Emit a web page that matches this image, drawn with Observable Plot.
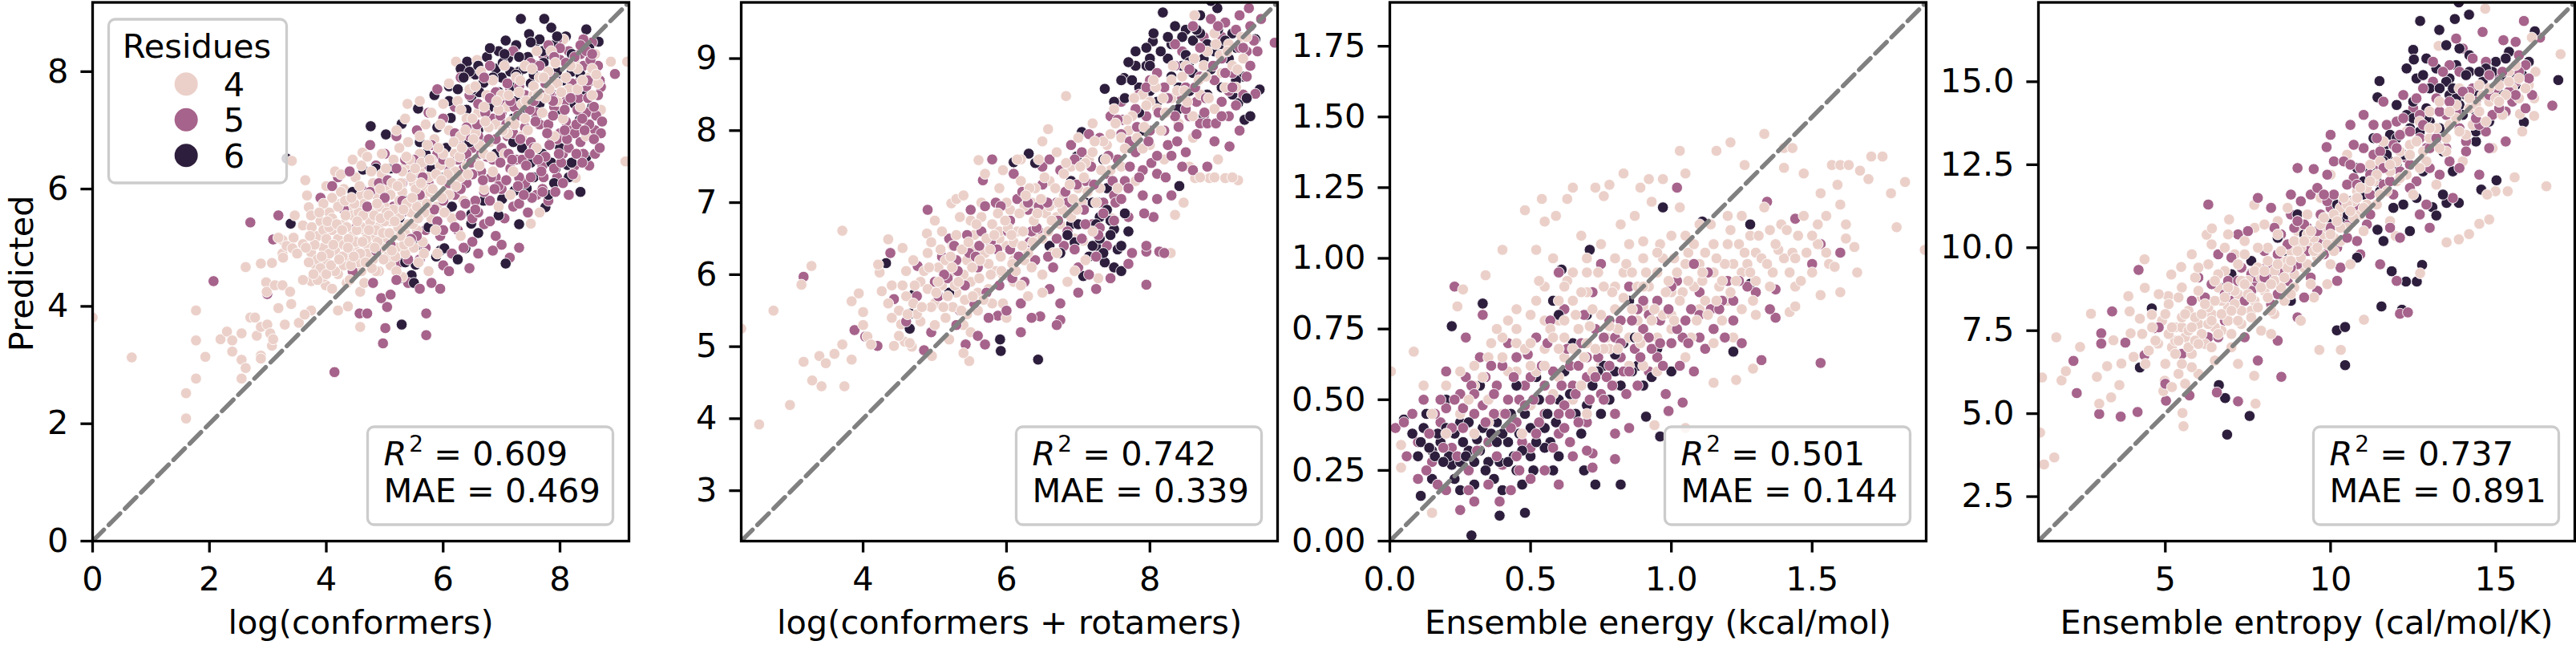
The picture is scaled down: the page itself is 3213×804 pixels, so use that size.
<!DOCTYPE html>
<html><head><meta charset="utf-8">
<script src="https://cdn.jsdelivr.net/npm/d3@7"></script>
<script src="https://cdn.jsdelivr.net/npm/@observablehq/plot@0.6"></script>
<style>
html,body{margin:0;padding:0;background:#fff;overflow:hidden}
#fig{position:relative;width:3213px;height:804px;overflow:hidden;background:#fff}
#fig svg{position:absolute;top:0}
</style></head><body><div id="fig"></div>
<script>
const residues = [4, 5, 6];
const residueColors = ["#ebd0c9", "#a6638b", "#2e1e3d"];

// Panel 1: log(conformers)
const p1_res4 = [[0,3.81],[0.67,3.13],[1.6,2.52],[1.6,2.09],[1.77,3.93],[1.77,3.42],[1.77,2.77],[1.93,3.14],[2.19,3.44],[2.3,3.57],[2.39,3.42],[2.39,3.23],[2.55,3.54],[2.55,2.77],[2.55,3.09],[2.62,2.95],[2.62,4.67],[2.7,3.81],[2.78,3.81],[2.81,3.5],[2.88,3.16],[2.88,3.65],[2.88,3.11],[2.99,3.69],[3.04,3.54],[3.07,3.33],[3.09,3.44],[2.88,4.73],[2.97,4.41],[2.98,4.25],[3.12,4.36],[3.07,4.74],[3.18,3.97],[3.25,4.36],[3.29,3.69],[3.25,4.9],[3.41,6.48],[3.38,4.25],[3.4,4.04],[3.53,3.72],[3.64,6.15],[3.67,5.89],[3.7,5.69],[3.74,5.55],[3.46,5.55],[3.6,5.38],[3.44,5.17],[3.25,5.13],[3.18,5.17],[3.32,5.03],[3.26,4.83],[3.42,4.99],[3.6,5.06],[3.74,4.92],[3.81,4.71],[3.89,4.57],[3.99,4.36],[4.2,3.93],[4.37,4.0],[4.58,3.65],[4.58,4.25],[3.74,3.93],[3.63,3.86],[3.74,4.43],
[6.22,8.17],[6.43,7.95],[6.58,8.2],[8.87,8.17],[9.15,8.17],[9.12,6.47],[8.59,7.34],[8.49,6.4],[8.27,6.19],[7.5,5.41],[5.39,7.45],[5.36,6.4],[4.62,6.62],[8.06,8.55],
[3.85,5.2],[3.9,5.45],[3.95,5.0],[4.0,4.75],[4.05,5.6],[4.1,5.3],[4.15,4.95],[4.0,6.05],[4.1,5.85],[3.85,4.8],[4.2,4.55],[4.15,6.3],[3.95,4.5],
[4.25,5.1],[4.3,5.4],[4.35,4.8],[4.4,5.7],[4.45,5.2],[4.5,4.95],[4.3,6.0],[4.55,5.5],[4.35,4.4],[4.5,6.2],[4.6,4.6],[4.25,5.75],[4.45,6.5],[4.6,5.9],
[4.65,5.3],[4.7,5.05],[4.75,5.6],[4.8,4.8],[4.85,5.9],[4.9,5.35],[4.95,6.25],[4.7,6.55],[4.8,6.1],[5.0,5.1],[4.9,4.6],[4.65,4.4],[5.0,5.7],
[5.05,6.0],[5.1,5.45],[5.15,6.5],[5.2,5.0],[5.25,5.8],[5.3,6.3],[5.35,5.25],[5.4,6.8],[5.45,5.6],[5.1,4.7],[5.3,4.5],[5.5,6.1],[5.2,7.0],[5.35,7.2],
[5.55,5.3],[5.6,6.6],[5.65,5.85],[5.7,7.1],[5.75,6.2],[5.8,5.5],[5.85,6.85],[5.9,4.9],[5.95,6.4],[5.6,7.5],[5.8,7.3],[5.75,4.6],
[6.05,6.0],[6.1,7.0],[6.15,5.5],[6.2,6.6],[6.25,7.5],[6.3,6.2],[6.35,5.8],[6.4,7.2],[6.45,6.9],[6.1,7.8],[6.3,5.2],[6.45,7.7],
[6.55,6.5],[6.6,7.3],[6.7,6.0],[6.75,7.6],[6.8,6.8],[6.9,7.1],[6.95,5.7],[6.65,8.0],[6.85,7.85],
[7.05,6.6],[7.1,7.4],[7.2,6.3],[7.25,7.9],[7.35,6.9],[7.4,8.1],[7.45,7.0],[7.15,5.9],
[7.55,7.6],[7.6,6.7],[7.7,7.3],[7.8,8.0],[7.9,6.9],[7.95,7.5],[7.65,5.6],
[8.05,7.2],[8.15,7.7],[8.25,8.2],[8.35,7.4],[8.5,7.9],[8.6,8.3],[8.45,6.9],[8.7,7.35]];
const p1_res4_core = [[3.7,4.75],[3.8,5.05],[3.9,4.65],[3.95,5.3],[4.05,4.9],[4.1,5.5],[4.15,4.6],[4.2,5.15],[4.25,5.95],[4.3,4.7],[4.35,5.35],[4.4,4.95],[4.45,5.55],[4.5,5.1],[4.55,4.75],[4.6,5.35],[4.65,5.75],[4.7,4.9],[4.75,5.45],[4.8,5.2],[4.85,4.6],[4.9,5.7],[4.95,5.0],[5.0,5.45],[5.05,4.85],[5.1,5.9],[5.15,5.2],[5.2,4.6],[5.25,5.55],[5.3,5.95],[5.35,4.9],[5.4,5.4],[5.45,6.2],[5.5,5.0],[5.55,5.7],[5.6,6.3],[5.65,5.1],[5.7,6.0],[5.8,6.5],[5.9,5.7],[6.0,6.6],[6.1,5.9],[6.2,6.3],[6.3,6.9],[6.4,6.4],[6.55,6.95],[6.7,6.6],[4.0,5.15],[4.3,5.05],[4.55,5.6],[4.85,5.3],[5.15,5.65],[3.6,4.45],[3.5,4.9],[4.1,4.3],[4.4,4.45],[3.95,5.75],[4.25,6.25],[4.6,6.4],[4.95,6.6],[5.25,6.7],[5.6,6.9],[5.95,7.1],[6.3,7.35],[6.7,7.4],[7.0,7.6],[7.3,7.65],[7.65,7.9],[7.85,8.35],[8.3,8.05],[8.55,8.05],[7.1,6.95],[6.85,6.3],[7.4,7.2]];
const p1_res4_fill = [[3.75,5.35],[3.85,4.45],[4.0,4.55],[4.05,5.35],[4.12,5.05],[4.2,5.7],[4.28,4.85],[4.33,5.55],[4.38,5.15],[4.42,4.7],[4.48,5.75],[4.52,5.3],[4.58,4.9],[4.63,5.55],[4.68,5.15],[4.72,5.9],[4.78,4.65],[4.82,5.55],[4.88,5.1],[4.92,6.0],[4.97,5.25],[5.03,5.6],[5.08,5.25],[5.13,6.1],[5.18,4.85],[5.23,5.35],[5.28,6.1],[5.33,5.05],[5.38,5.75],[5.43,6.5],[5.48,5.4],[5.53,6.0],[5.58,4.75],[5.63,6.45],[5.68,5.6],[5.73,6.75],[5.78,5.95],[5.88,6.25],[5.98,5.85],[6.08,6.25],[6.18,6.8],[6.28,6.55],[6.38,7.0],[6.5,7.2],[6.62,6.75],[6.78,7.05],[6.95,7.35],[7.15,7.15],[7.35,7.45],[7.55,7.75],[7.75,7.55],[7.95,7.8],[8.1,7.9],[8.3,7.7],[8.55,7.6],[8.65,7.8],[6.0,7.45],[6.55,7.75],[7.05,8.1],[7.6,8.35]];
const p1_res4_more = [[3.65,5.0],[3.72,5.2],[3.78,4.55],[3.88,5.6],[3.92,4.85],[4.02,5.45],[4.08,4.7],[4.18,5.4],[4.22,4.8],[4.27,5.3],[4.32,5.8],[4.37,5.0],[4.43,5.85],[4.47,4.85],[4.53,5.45],[4.57,6.05],[4.62,5.1],[4.67,4.75],[4.73,5.3],[4.77,6.3],[4.83,5.0],[4.87,5.75],[4.93,5.5],[4.98,4.8],[5.02,6.35],[5.07,5.55],[5.12,4.95],[5.17,5.45],[5.22,6.05],[5.27,5.2],[5.32,5.65],[5.37,6.55],[5.42,5.1],[5.47,5.85],[5.52,6.35],[5.57,5.5],[5.62,6.1],[5.67,4.9],[5.72,5.75],[5.77,6.5],[5.82,6.0],[5.87,5.3],[5.92,6.7],[5.97,6.15],[6.02,5.6],[6.12,6.45],[6.22,6.05],[6.32,6.7],[6.42,6.25],[6.52,6.85],[6.62,6.4],[6.72,7.15],[6.82,6.55],[6.92,7.5],[7.02,7.0],[7.12,7.6],[7.22,7.1],[7.32,7.85],[7.42,7.5],[7.52,8.05],[7.62,7.6],[7.72,7.9],[7.82,7.7],[7.92,8.15],[8.02,7.65],[8.18,8.1],[8.38,7.85],[8.62,7.95]];
const p1_res5 = [[2.07,4.43],[2.7,5.43],[2.99,4.21],[3.18,5.55],[3.09,5.14],[4.14,2.88],[4.97,3.37],[5.01,3.63],[5.71,3.51],[5.71,3.88],[7.14,4.83],[4.57,3.88],[4.7,3.88],[5.04,3.99],[4.94,4.14],[4.0,5.27],[4.2,6.2],[4.51,5.34],[8.94,7.96],[8.7,7.74],[8.52,6.91],[7.96,6.13],
[4.6,6.0],[4.75,6.75],[4.85,6.4],[4.9,5.0],[5.0,6.6],[5.1,4.2],[5.15,5.7],[5.2,6.9],[5.25,4.75],[5.3,5.6],[5.4,4.4],[5.45,6.3],[5.5,5.1],[5.55,7.0],[5.6,4.8],[5.65,6.4],[5.7,5.3],[5.75,7.3],[5.8,4.4],[5.85,5.9],[5.9,6.6],[5.95,5.2],[6.0,4.7],[6.0,7.2],[6.05,5.6],[6.1,6.35],[6.15,4.9],[6.2,7.4],[6.25,5.3],[6.3,6.8],[6.35,5.0],[6.4,6.1],[6.45,7.6],[6.5,5.5],[6.55,7.0],[6.6,4.9],[6.65,6.3],[6.7,5.4],[6.75,7.2],[6.8,5.8],[6.85,6.5],[6.9,5.2],[6.95,7.5],[7.0,6.0],[7.05,5.5],[7.1,6.9],[7.15,7.7],[7.2,5.7],[7.25,6.5],[7.3,5.0],[7.35,7.3],[7.4,6.1],[7.45,5.6],[7.5,6.8],[7.55,8.0],[7.6,5.9],[7.65,7.1],[7.7,6.4],[7.75,7.8],[7.8,5.8],[7.85,6.9],[7.9,7.4],[7.95,6.2],[8.0,8.2],[8.05,6.6],[8.1,7.5],[8.15,5.9],[8.2,7.0],[8.25,6.4],[8.3,7.8],[8.35,6.8],[8.4,8.1],[8.45,7.3],[8.5,6.4],[8.55,8.5],[8.6,7.0],[8.65,7.6],[8.4,8.55],[8.15,8.35],[7.95,8.55],[7.7,8.3],[6.3,7.9],[5.9,7.7],[6.8,8.1],[7.2,8.35],[5.3,6.1],[5.6,5.55],[6.5,6.7],[7.0,7.3],[7.4,7.6],[7.9,7.9],[8.25,7.6],[6.9,6.2],[7.3,6.2],[7.7,6.0],[8.0,6.95],[6.2,5.9],[6.6,5.6],[5.75,6.1]];
const p1_res5_core = [[6.3,6.0],[6.4,6.6],[6.5,6.25],[6.6,6.9],[6.7,5.95],[6.75,6.55],[6.85,7.2],[6.95,6.05],[7.0,6.7],[7.05,7.45],[7.15,6.35],[7.2,6.95],[7.3,5.75],[7.35,6.5],[7.4,7.05],[7.5,6.2],[7.55,6.7],[7.6,7.3],[7.7,5.95],[7.75,6.55],[7.8,7.1],[7.85,7.6],[7.9,6.35],[7.95,6.85],[8.0,7.6],[8.05,6.1],[8.1,7.15],[8.15,6.7],[8.2,7.8],[8.25,6.95],[8.3,7.35],[8.35,8.3],[8.4,6.6],[8.45,7.75],[8.5,7.1],[8.55,7.85],[8.6,6.6],[8.65,8.1],[8.7,6.95],[8.45,8.35],[8.1,8.15],[7.8,8.45],[7.5,8.15],[7.3,7.75],[6.9,7.65],[6.6,7.45],[6.2,6.95],[6.0,6.5],[5.8,6.75],[5.5,6.5],[5.2,6.35],[4.9,6.1],[4.6,5.65],[4.3,5.65],[4.1,6.05],[3.9,5.85],[4.45,4.6],[4.8,4.4],[5.1,5.05],[5.4,4.8],[5.7,5.0],[6.0,5.3],[6.3,5.55],[6.5,5.1],[6.8,5.45],[7.0,5.05],[6.1,4.6],[5.6,4.3],[5.95,4.3],[6.45,4.65]];
const p1_res5_fill = [[6.35,6.35],[6.45,6.9],[6.55,5.8],[6.65,6.6],[6.72,7.3],[6.82,6.2],[6.9,6.85],[6.98,7.25],[7.08,6.15],[7.12,6.6],[7.22,7.4],[7.28,6.05],[7.32,6.85],[7.42,6.4],[7.48,7.35],[7.52,5.85],[7.62,6.5],[7.68,7.6],[7.72,6.2],[7.82,6.75],[7.88,7.25],[7.92,5.95],[8.02,6.45],[8.08,7.35],[8.12,6.85],[8.22,6.25],[8.28,7.1],[8.32,7.55],[8.38,6.45],[8.42,7.0],[8.48,7.55],[8.52,8.2],[8.58,6.85],[8.62,7.25],[8.68,7.85],[8.72,7.15],[8.35,8.45],[8.0,8.4],[7.65,8.1],[7.1,7.8],[6.7,7.9],[6.0,5.8],[5.65,6.2],[5.35,6.5],[5.05,6.15],[4.75,5.95],[5.55,5.2],[5.9,5.45],[6.2,5.35],[6.55,5.65],[6.85,4.95],[5.2,4.45],[5.45,5.15],[4.85,4.95]];
const p1_res5_more = [[6.25,6.5],[6.38,5.75],[6.48,6.45],[6.58,7.1],[6.68,6.15],[6.78,6.85],[6.88,6.0],[6.98,6.45],[7.08,7.1],[7.18,6.5],[7.28,7.25],[7.38,5.9],[7.48,6.6],[7.58,7.15],[7.68,6.3],[7.78,6.95],[7.88,7.5],[7.98,6.6],[8.08,7.0],[8.18,7.55],[8.28,6.6],[8.38,7.2],[8.48,7.85],[8.58,7.4],[8.68,6.7],[8.55,8.3],[8.25,8.25],[7.9,8.25],[7.55,7.5],[7.15,7.5],[6.8,7.55],[6.4,7.05],[6.1,6.1],[5.85,5.65],[5.6,5.9],[5.3,5.8],[5.0,5.85],[4.7,5.7],[4.4,6.3]];
const p1_res6 = [[3.32,6.52],[3.39,5.41],[7.33,8.9],[7.73,8.9],[7.07,8.53],[8.45,8.72],[8.66,8.51],[7.47,8.64],[7.57,8.49],[4.76,7.07],[5.02,6.93],[4.63,6.33],[5.29,7.11],[5.57,7.37],[5.85,7.6],[8.13,6.41],[7.92,6.34],[7.75,5.69],[7.07,4.73],[5.29,3.69],[5.53,4.71],[5.46,4.53],[5.29,4.48],[5.95,4.95],[5.88,4.85],[6.48,5.57],[7.11,8.23],[6.41,8.17],[6.9,8.05],[7.11,7.6],[7.4,7.39],[8.34,7.18],[6.13,7.21],[6.2,7.46],[6.48,7.56],[6.69,7.81],[7.01,5.83],[6.69,5.8],[6.48,5.41],[6.38,4.99],[6.02,4.99],[7.22,5.97],[7.43,6.01],
[7.6,8.1],[7.8,8.3],[7.3,8.0],[7.0,7.9],[7.5,7.8],[7.9,7.6],[8.2,8.0],[8.4,7.7],[8.0,7.3],[7.2,7.2],[6.8,7.4],[6.6,7.0],[7.7,6.6],[7.35,6.7],[6.9,6.6],[5.6,6.8],[5.8,6.35],[6.3,6.5],[5.4,5.8],[8.55,7.4],[7.85,8.75],[8.1,8.6]];
const p1_res6_core = [[6.1,7.75],[6.3,8.05],[6.55,7.95],[6.75,8.25],[6.95,8.35],[7.15,8.0],[7.25,8.45],[7.45,8.25],[7.65,8.55],[7.0,7.35],[7.25,7.5],[7.6,7.25],[6.8,7.1],[6.4,7.35],[5.9,7.05],[5.5,6.25],[5.1,6.35],[4.9,5.85],[5.35,4.75],[5.5,4.4],[5.75,5.35],[6.15,5.7],[6.6,5.25],[6.25,4.8],[7.5,6.45],[7.9,6.1],[8.2,6.45],[8.35,5.95],[7.3,5.4],[7.8,5.9],[8.35,7.95],[8.5,8.4],[7.95,8.0],[5.7,6.6],[6.05,6.7],[4.85,6.35],[4.45,5.95]];
const p1_res6_fill = [[6.25,7.7],[6.45,8.0],[6.62,7.65],[6.85,7.9],[7.02,8.15],[7.18,7.75],[7.38,8.05],[7.55,7.95],[7.72,8.15],[7.9,8.45],[8.05,7.85],[8.25,7.45],[7.45,7.35],[7.2,6.8],[6.7,6.8],[6.45,6.8],[5.95,6.2],[5.65,5.8],[5.25,5.5],[7.55,6.2],[8.0,6.7],[8.45,6.55]];
const p1_res6_more = [[6.35,7.9],[6.6,8.1],[6.8,8.4],[7.05,8.3],[7.3,8.25],[7.5,8.5],[7.7,8.35],[7.95,8.6],[8.2,8.3],[6.95,7.65],[7.25,7.95],[7.65,7.45],[6.5,7.7],[6.1,7.5],[7.85,6.45],[8.15,6.2],[6.95,5.55],[5.6,5.05]];

// Panel 2: log(conformers + rotamers)
const p2_res4 = [[2.3,5.25],[2.55,3.92],[2.75,5.5],[2.98,4.19],[3.14,5.86],[3.28,6.12],[3.17,4.79],[3.29,4.53],[3.39,4.87],[3.42,4.45],[3.48,4.77],[3.6,4.9],[3.71,6.61],[3.71,5.03],[3.74,4.45],[3.84,4.82],[3.84,5.63],[3.94,5.74],[4.0,5.48],[4.0,5.3],[4.06,5.14],[4.11,5.03],[4.23,6.03],[4.26,5.77],[4.21,6.14],[4.35,6.49],[4.43,5.01],[4.55,6.37],[4.58,5.07],[4.53,5.31],[4.68,5.0],[4.89,6.57],[4.96,4.87],[5.23,6.99],[5.48,4.8],[5.4,4.91],[5.61,7.59],[8.62,9.6],[6.83,8.48],[8.47,7.0],[8.63,7.34],[8.83,7.34],[9.05,7.34],[9.23,7.31],[8.29,6.3],[8.35,6.83],[7.47,6.78],[7.28,5.95],[7.07,6.47],[6.58,8.02],
[4.8,5.9],[4.9,6.3],[5.0,5.6],[5.05,6.1],[5.1,6.6],[5.15,5.4],[5.2,6.0],[5.25,6.4],[5.3,5.75],[5.35,6.8],[5.4,5.3],[5.45,6.2],[5.5,5.9],[5.55,6.55],[5.6,5.5],[5.65,7.0],[5.7,6.3],[5.75,5.8],[5.8,6.7],[5.85,6.05],[5.9,7.2],[5.95,5.6],[6.0,6.4],[6.05,6.9],[6.1,5.9],[6.15,6.6],[6.2,7.3],[6.25,6.2],[6.3,5.7],[6.35,7.0],[6.4,6.5],[6.45,7.6],[6.5,6.0],[6.55,6.85],[6.6,7.3],[6.65,6.3],[6.7,7.7],[6.75,6.7],[6.8,7.1],[6.85,5.9],[6.9,7.5],[6.95,6.5],[7.0,7.9],[7.05,7.0],[7.1,6.2],[7.15,7.6],[7.2,8.1],[7.3,7.2],[7.4,7.8],[7.5,8.3],[7.6,7.5],[7.7,8.0],[7.8,7.3],[7.9,8.5],[8.0,7.8],[8.1,8.3],[8.2,7.6],[8.3,8.7],[8.4,8.1],[8.5,8.9],[8.6,7.9],[8.7,8.5],[8.8,9.1],[8.9,8.3],[9.0,8.8],[9.1,9.2],[9.2,8.6],[9.3,9.0],[8.95,7.6],[8.55,7.5],[4.6,5.7],[4.7,6.2],[4.5,5.5],[4.4,5.85],[5.2,5.1],[5.5,5.2],[6.0,5.4],[5.3,7.05],[5.7,7.4],[6.2,7.6],[6.5,7.85],[6.1,6.2],[5.9,6.5],[6.3,6.3],[6.7,6.8]];
const p2_res4_core = [[4.7,5.6],[4.8,5.35],[4.9,5.8],[5.0,5.3],[5.1,5.85],[5.15,6.2],[5.25,5.55],[5.3,6.55],[5.4,6.0],[5.45,5.45],[5.55,6.35],[5.6,5.75],[5.65,6.8],[5.75,6.15],[5.8,5.6],[5.9,6.6],[5.95,6.0],[6.0,7.0],[6.1,6.45],[6.2,5.85],[6.25,6.95],[6.35,6.1],[6.4,7.2],[6.5,6.5],[6.6,6.95],[6.7,6.3],[6.8,7.4],[6.9,6.8],[7.0,7.2],[7.1,7.55],[7.25,7.0],[7.35,7.85],[7.45,7.45],[7.6,7.9],[7.75,8.2],[7.9,7.75],[8.0,8.4],[8.15,8.0],[8.3,8.45],[8.45,8.75],[8.6,8.2],[8.75,8.9],[8.9,9.35],[9.05,8.6],[8.7,7.35],[8.9,7.35],[9.15,7.35],[6.15,7.6],[5.5,6.75],[4.95,6.45],[4.6,6.05],[4.4,5.4],[4.5,5.15],[4.35,5.6],[7.2,6.6],[6.95,6.05],[6.5,5.75]];
const p2_res4_fill = [[4.75,5.45],[4.85,6.05],[4.95,5.55],[5.05,5.9],[5.12,5.55],[5.22,6.25],[5.28,5.85],[5.38,6.35],[5.42,5.65],[5.52,6.1],[5.58,6.7],[5.62,5.95],[5.72,6.5],[5.78,6.0],[5.88,6.85],[5.92,6.25],[6.02,6.65],[6.08,6.15],[6.18,6.85],[6.22,6.4],[6.32,7.2],[6.38,6.75],[6.48,7.05],[6.58,6.6],[6.68,7.2],[6.78,6.9],[6.88,7.25],[6.98,6.9],[7.08,7.35],[7.2,7.7],[7.32,7.45],[7.45,7.95],[7.55,7.2],[7.68,8.15],[7.82,7.9],[7.95,8.35],[8.08,8.6],[8.22,8.25],[8.38,8.55],[8.52,8.4],[8.68,8.7],[8.82,8.45],[8.98,9.05],[9.15,8.9],[9.28,9.3],[5.0,6.75],[5.4,7.1],[5.95,7.45],[4.55,5.85],[4.65,5.05]];
const p2_res4_more = [[4.62,5.45],[4.72,5.85],[4.82,5.55],[4.92,6.1],[5.02,5.75],[5.08,6.35],[5.18,5.7],[5.24,6.1],[5.33,5.9],[5.37,5.5],[5.47,6.45],[5.53,5.7],[5.63,6.2],[5.68,5.65],[5.77,6.35],[5.83,6.55],[5.93,6.05],[5.98,6.75],[6.07,6.55],[6.13,6.05],[6.23,6.6],[6.27,7.1],[6.37,6.45],[6.43,6.85],[6.53,7.35],[6.63,6.75],[6.73,7.0],[6.83,7.55],[6.93,7.05],[7.03,7.5],[7.13,7.15],[7.23,7.85],[7.38,7.6],[7.52,8.1],[7.65,7.75],[7.78,8.45],[7.92,8.05],[8.05,8.7],[8.18,8.45],[8.32,8.9],[8.48,8.55],[8.62,9.0],[8.78,8.75],[8.92,9.2],[9.08,9.1],[9.22,8.85],[9.35,9.3]];
const p2_res5 = [[3.17,5.97],[3.88,5.23],[4.03,5.14],[4.2,5.01],[4.38,6.3],[4.43,5.66],[4.76,6.12],[4.85,4.95],[5.43,5.03],[5.7,5.03],[5.67,7.31],[5.88,5.43],[6.47,5.42],[6.75,5.37],[7.95,6.32],[8.13,6.32],[9.74,9.22],[9.38,9.7],[9.47,8.51],[9.11,7.78],[7.95,5.86],
[5.0,5.9],[5.2,6.5],[5.35,5.5],[5.5,6.9],[5.6,6.1],[5.75,5.4],[5.85,7.0],[6.0,6.0],[6.1,7.4],[6.2,5.6],[6.3,6.9],[6.4,6.2],[6.5,7.5],[6.6,5.8],[6.7,7.0],[6.8,6.4],[6.9,7.8],[7.0,6.1],[7.1,7.3],[7.2,6.7],[7.3,7.9],[7.4,6.4],[7.5,7.1],[7.6,8.4],[7.7,6.8],[7.8,7.7],[7.9,7.1],[8.0,8.7],[8.1,7.4],[8.2,8.0],[8.3,7.1],[8.4,8.5],[8.5,7.7],[8.6,9.0],[8.7,8.1],[8.8,7.5],[8.9,8.7],[9.0,9.3],[9.1,8.2],[9.2,9.4],[9.3,8.5],[9.35,9.1],[8.75,9.3],[8.45,9.1],[7.95,8.2],[7.55,7.6],[7.35,7.0],[6.95,7.0],[6.45,6.6],[6.05,6.75],[5.65,6.6],[5.3,6.2],[7.15,6.0],[7.65,7.3],[8.25,7.8],[8.65,8.4],[9.15,8.8],[8.35,9.2],[7.85,8.5],[7.45,8.2],[6.6,7.6],[4.9,6.9],[5.8,7.6],[8.05,6.8],[7.75,6.3],[7.25,5.8],[6.75,5.6],[6.35,5.4],[7.05,7.7],[8.55,8.2],[9.25,8.0],[9.0,8.4]];
const p2_res5_core = [[4.6,5.35],[4.75,5.7],[4.95,5.2],[5.1,6.25],[5.3,5.3],[5.45,6.55],[5.55,5.6],[5.7,6.95],[5.9,5.85],[6.05,6.35],[6.15,7.05],[6.25,5.9],[6.35,6.6],[6.5,7.25],[6.65,6.1],[6.75,7.45],[6.85,6.6],[6.95,7.6],[7.05,6.5],[7.15,7.95],[7.3,6.65],[7.4,7.4],[7.5,6.75],[7.6,7.95],[7.7,7.2],[7.8,8.3],[7.9,7.45],[8.0,8.0],[8.1,7.05],[8.2,8.6],[8.3,7.65],[8.4,8.05],[8.5,8.6],[8.6,7.45],[8.7,8.75],[8.8,8.1],[8.9,7.85],[9.0,9.0],[9.1,8.55],[9.25,9.15],[9.4,8.9],[9.05,9.5],[8.85,9.55],[9.4,9.45],[7.95,6.4],[8.2,6.3],[7.7,6.15],[7.45,5.95],[7.0,5.75],[6.7,5.3],[6.2,5.2],[6.0,5.5],[5.6,5.15]];
const p2_res5_fill = [[5.05,5.7],[5.18,5.95],[5.32,6.05],[5.48,6.3],[5.62,6.4],[5.78,6.45],[5.92,6.95],[6.08,5.95],[6.22,7.15],[6.32,6.45],[6.45,6.95],[6.58,6.25],[6.72,6.75],[6.82,7.15],[6.95,6.35],[7.08,6.9],[7.18,7.5],[7.28,6.55],[7.42,7.65],[7.52,7.0],[7.62,8.15],[7.72,7.5],[7.82,8.05],[7.92,6.85],[8.02,7.55],[8.12,8.25],[8.22,7.35],[8.35,8.2],[8.45,7.5],[8.55,8.85],[8.65,7.95],[8.78,8.45],[8.92,8.1],[9.05,8.8],[9.2,8.35],[9.35,8.75],[9.5,9.1],[9.55,9.55],[8.6,9.45],[8.1,8.8],[7.25,6.25]];
const p2_res5_more = [[5.13,6.0],[5.27,6.4],[5.42,5.85],[5.57,6.25],[5.72,5.75],[5.87,6.35],[6.02,6.6],[6.17,6.25],[6.3,7.0],[6.42,6.65],[6.57,7.0],[6.7,6.5],[6.85,7.0],[6.98,7.25],[7.1,6.7],[7.22,7.25],[7.35,6.85],[7.48,7.3],[7.6,7.05],[7.72,7.85],[7.85,7.35],[7.98,7.85],[8.1,7.65],[8.25,8.45],[8.38,7.85],[8.5,8.3],[8.63,8.6],[8.76,8.25],[8.88,8.9],[9.0,8.2],[9.15,8.6],[9.3,9.15],[9.45,9.25],[9.25,9.6],[8.95,9.45],[8.7,9.15],[8.35,8.9],[7.95,8.6],[7.55,8.15]];
const p2_res6 = [[4.32,6.16],[4.71,5.73],[4.66,5.46],[5.91,5.1],[5.92,4.94],[6.44,4.82],[6.1,7.56],[6.31,7.68],[8.18,9.64],[8.94,9.7],[9.47,9.27],[9.53,8.57],[9.23,8.38],[8.85,9.8],[7.95,8.9],[8.04,9.24],[7.64,8.73],[7.37,8.58],[8.41,7.23],[7.28,7.0],[7.37,6.17],[7.5,6.63],[7.07,5.98],[7.25,6.4],[7.05,7.98],[6.98,7.64],[9.32,8.15],
[7.6,8.7],[7.8,8.9],[8.0,9.0],[8.2,8.6],[8.3,9.2],[8.5,9.4],[8.6,8.8],[8.7,9.6],[8.8,8.5],[8.9,9.1],[9.0,8.6],[9.15,9.35],[8.4,8.3],[8.1,8.4],[7.9,8.0],[7.4,7.2],[7.2,6.4],[7.5,6.1],[7.3,6.8],[7.7,6.6],[7.1,7.0],[6.6,6.4],[6.9,6.7],[7.35,7.6],[8.75,8.2],[9.3,8.75]];
const p2_res6_core = [[7.8,9.1],[8.05,9.35],[8.25,9.0],[8.45,9.3],[8.6,9.25],[8.75,9.0],[8.95,9.4],[9.1,9.0],[9.2,8.7],[9.35,8.45],[8.55,8.55],[8.3,8.75],[7.85,8.6],[7.5,8.4],[7.2,7.0],[7.4,6.9],[7.55,6.35],[7.35,6.3],[7.6,6.05],[7.0,6.7],[6.75,6.3],[5.2,5.75],[4.65,5.25],[6.4,7.55],[6.9,7.3],[9.4,8.2]];
const p2_res6_fill = [[7.7,8.95],[7.95,9.15],[8.15,9.1],[8.35,9.45],[8.5,9.05],[8.7,9.35],[8.85,8.85],[9.0,9.2],[9.2,9.15],[8.4,8.6],[8.0,8.55],[7.65,8.45],[7.45,6.55],[7.3,6.5],[7.15,6.25],[7.6,6.4],[6.95,6.45]];
const p2_res6_more = [[7.75,8.7],[8.0,8.9],[8.25,9.3],[8.45,8.9],[8.65,9.4],[8.8,9.2],[9.05,9.25],[9.15,8.5],[8.55,8.95],[7.85,8.25],[7.45,6.75],[7.25,6.7],[7.65,6.85],[6.85,6.55]];

// Panel 3: Ensemble energy (kcal/mol)
const p3_res4 = [[0.004,0.6],[0.085,0.67],[0.04,0.34],[0.04,0.26],[0.15,0.1],[0.26,0.89],[0.24,0.83],[0.34,0.94],[0.4,1.03],[0.48,1.17],[0.54,1.21],[0.55,1.13],[0.52,1.03],[0.59,1.15],[0.63,1.21],[0.65,1.25],[0.73,1.25],[0.76,1.22],[0.78,1.26],[0.83,1.3],[0.89,1.25],[0.92,1.28],[0.97,1.28],[1.03,1.38],[1.05,1.3],[1.16,1.38],[1.21,1.41],[1.26,1.33],[1.33,1.44],[1.4,1.39],[1.43,1.39],[1.4,1.32],[1.47,1.3],[1.57,1.33],[1.6,1.33],[1.63,1.33],[1.67,1.31],[1.71,1.36],[1.7,1.28],[1.75,1.36],[1.83,1.27],[1.78,1.23],[1.8,1.11],[1.9,1.03],[1.65,1.04],[1.62,1.07],[1.6,1.19],[1.59,1.26],[1.53,1.23],[1.53,0.87],[1.56,0.98],[1.44,0.9],[1.42,0.81],[1.44,0.83],[1.23,0.57],[1.29,0.61],[1.15,0.56],[1.05,0.4],[0.94,0.41],[1.22,0.72],
[0.3,0.55],[0.35,0.65],[0.4,0.72],[0.45,0.6],[0.5,0.8],[0.5,0.48],[0.55,0.68],[0.55,0.9],[0.6,0.58],[0.6,0.78],[0.65,0.85],[0.65,0.5],[0.7,0.7],[0.7,0.95],[0.75,0.62],[0.75,0.8],[0.8,0.9],[0.8,0.55],[0.85,0.72],[0.85,1.05],[0.9,0.83],[0.9,0.62],[0.95,0.95],[0.95,0.72],[1.0,1.08],[1.0,0.88],[1.05,0.65],[1.05,0.98],[1.1,1.12],[1.1,0.82],[1.15,0.95],[1.15,0.7],[1.2,1.05],[1.2,0.85],[1.25,0.95],[1.25,1.15],[1.3,1.02],[1.3,0.8],[1.35,1.1],[1.35,0.9],[1.4,1.0],[1.45,1.08],[1.5,0.95],[1.55,1.15],[1.6,0.88],[0.4,0.45],[0.45,0.82],[0.25,0.45],[0.2,0.55],[0.3,0.38],[0.35,0.5],[0.7,0.45],[0.9,1.0],[1.0,0.75],[1.12,1.02],[0.62,0.72],[0.78,0.68],[0.88,0.9],[0.97,0.8],[1.08,0.9],[1.18,0.78],[0.58,1.0],[0.68,1.08],[0.82,1.12],[1.03,1.18],[0.15,0.45],[0.52,0.6],[0.42,0.6]];
const p3_res4_core = [[0.45,0.7],[0.5,0.62],[0.55,0.78],[0.6,0.85],[0.62,0.65],[0.67,0.75],[0.7,0.88],[0.72,0.6],[0.77,0.72],[0.8,0.82],[0.83,0.95],[0.85,0.62],[0.88,0.78],[0.9,1.06],[0.92,0.9],[0.95,0.6],[0.97,1.0],[1.0,0.8],[1.02,0.95],[1.05,1.08],[1.07,0.72],[1.1,0.98],[1.12,0.85],[1.15,1.05],[1.17,0.9],[1.2,1.15],[1.22,0.98],[1.25,0.82],[1.28,1.08],[1.3,0.92],[1.33,1.18],[1.38,1.03],[1.42,0.95],[1.47,1.15],[1.52,1.05],[1.58,0.97],[0.3,0.62],[0.35,0.42],[0.38,0.75],[0.25,0.6],[0.2,0.38],[0.12,0.55],[0.58,0.52],[0.65,0.95],[0.75,1.05],[0.68,0.55],[0.87,1.15],[0.93,1.2],[0.47,0.38],[0.53,0.92]];
const p3_res4_fill = [[0.42,0.78],[0.48,0.68],[0.52,0.85],[0.57,0.75],[0.6,0.68],[0.63,0.92],[0.66,0.8],[0.69,0.65],[0.72,0.82],[0.74,0.95],[0.76,0.68],[0.79,0.88],[0.81,0.75],[0.84,0.98],[0.86,0.82],[0.89,0.7],[0.91,0.95],[0.94,0.82],[0.96,1.05],[0.99,0.92],[1.01,0.78],[1.04,0.88],[1.06,1.02],[1.09,0.78],[1.11,0.92],[1.14,1.12],[1.16,0.85],[1.19,0.98],[1.21,0.88],[1.24,1.05],[1.27,0.98],[1.29,0.85],[1.32,1.0],[1.36,0.95],[1.39,1.12],[1.43,1.02],[1.46,0.92],[1.5,1.08],[1.55,1.02],[1.62,1.12],[1.66,0.95],[0.33,0.58],[0.28,0.5],[0.36,0.7]];
const p3_res4_more = [[0.5,0.7],[0.55,0.62],[0.58,0.72],[0.62,0.78],[0.65,0.68],[0.68,0.88],[0.71,0.76],[0.73,0.68],[0.76,0.9],[0.78,0.76],[0.81,0.68],[0.83,0.86],[0.86,0.95],[0.88,0.72],[0.9,0.9],[0.93,0.78],[0.95,1.02],[0.98,0.88],[1.01,1.0],[1.03,0.85],[1.06,0.92],[1.08,1.05],[1.11,0.95],[1.13,0.8],[1.16,1.0],[1.18,0.92],[1.21,1.1],[1.23,0.92],[1.26,1.02],[1.28,0.95],[1.31,1.08],[1.34,0.98],[1.37,1.05],[1.41,1.1],[1.44,1.0],[1.48,1.02],[1.52,1.12],[0.8,1.0],[0.7,1.0],[0.62,0.9],[0.45,0.75],[0.4,0.65]];
const p3_res5 = [[0.23,0.9],[0.02,0.4],[0.06,0.3],[1.53,0.63],[1.32,0.64],[1.53,1.05],[1.6,1.02],[1.5,0.98],[1.02,1.25],[1.34,1.2],[1.44,1.14],[1.04,0.49],[0.99,0.46],[0.8,0.29],[0.72,0.31],[0.72,0.26],[0.39,0.14],[0.3,0.14],[0.25,0.11],[0.2,0.18],[1.37,0.79],[1.37,0.89],
[0.1,0.35],[0.12,0.5],[0.15,0.28],[0.18,0.42],[0.2,0.6],[0.22,0.33],[0.25,0.52],[0.28,0.25],[0.3,0.45],[0.32,0.65],[0.35,0.35],[0.38,0.55],[0.4,0.27],[0.42,0.7],[0.45,0.42],[0.48,0.55],[0.5,0.33],[0.52,0.72],[0.55,0.45],[0.58,0.6],[0.6,0.38],[0.62,0.82],[0.65,0.55],[0.68,0.7],[0.7,0.42],[0.72,0.88],[0.75,0.52],[0.78,0.78],[0.8,0.45],[0.82,0.65],[0.85,0.9],[0.88,0.55],[0.9,0.75],[0.92,0.6],[0.95,0.85],[0.98,0.52],[1.0,0.7],[1.02,0.92],[1.05,0.78],[1.08,0.6],[1.1,0.88],[1.15,0.75],[1.2,0.92],[1.25,0.7],[1.3,0.88],[1.35,0.82],[0.33,0.8],[0.6,0.95],[0.75,0.98],[0.05,0.42],[0.17,0.2],[0.27,0.72],[0.43,0.18],[0.55,0.25],[0.65,0.3],[0.85,0.4],[0.95,0.65],[1.12,0.68]];
const p3_res5_core = [[0.14,0.38],[0.2,0.47],[0.24,0.3],[0.27,0.58],[0.3,0.38],[0.33,0.48],[0.36,0.62],[0.38,0.3],[0.42,0.5],[0.45,0.65],[0.47,0.35],[0.5,0.58],[0.53,0.42],[0.56,0.7],[0.58,0.33],[0.62,0.48],[0.64,0.62],[0.67,0.42],[0.7,0.58],[0.73,0.75],[0.76,0.5],[0.78,0.62],[0.82,0.78],[0.84,0.52],[0.87,0.68],[0.9,0.85],[0.93,0.68],[0.96,0.78],[1.0,0.9],[1.03,0.62],[1.07,0.82],[1.1,0.72],[1.13,0.95],[1.18,0.85],[1.22,0.78],[1.27,0.9],[0.08,0.45],[0.1,0.22],[0.35,0.2],[0.5,0.22],[0.6,0.2],[0.7,0.32],[0.8,0.38]];
const p3_res5_fill = [[0.16,0.45],[0.19,0.33],[0.23,0.5],[0.26,0.4],[0.29,0.55],[0.31,0.32],[0.34,0.58],[0.37,0.45],[0.4,0.62],[0.43,0.4],[0.46,0.5],[0.49,0.66],[0.52,0.38],[0.55,0.55],[0.57,0.78],[0.6,0.45],[0.63,0.68],[0.66,0.52],[0.69,0.8],[0.71,0.5],[0.74,0.65],[0.77,0.58],[0.8,0.72],[0.83,0.6],[0.86,0.78],[0.89,0.65],[0.92,0.8],[0.96,0.7],[0.99,0.82],[1.04,0.72],[1.08,0.98],[1.14,0.82],[1.19,0.72],[1.24,0.92],[0.13,0.25],[0.28,0.18],[0.46,0.25],[0.64,0.35]];
const p3_res5_more = [[0.18,0.5],[0.22,0.4],[0.26,0.47],[0.3,0.52],[0.34,0.42],[0.37,0.52],[0.41,0.45],[0.44,0.58],[0.48,0.48],[0.51,0.5],[0.54,0.62],[0.57,0.5],[0.61,0.55],[0.64,0.45],[0.67,0.62],[0.7,0.65],[0.73,0.58],[0.76,0.72],[0.79,0.55],[0.82,0.7],[0.85,0.6],[0.88,0.82],[0.92,0.72],[0.97,0.62],[1.02,0.75],[1.06,0.7],[1.1,0.8],[1.17,0.82],[1.22,0.85],[0.62,0.4],[0.45,0.3]];
const p3_res6 = [[0.29,0.02],[0.11,0.16],[0.15,0.1],[0.05,0.43],[0.48,0.1],[0.39,0.09],[0.73,0.2],[0.82,0.2],[0.69,0.25],[0.96,0.37],[0.91,0.44],[1.22,0.67],[1.28,1.12],[1.28,0.91],[1.11,1.13],[0.97,1.18],[0.33,0.84],[0.22,0.76],[0.61,0.96],[0.71,1.03],
[0.1,0.3],[0.12,0.4],[0.15,0.22],[0.18,0.35],[0.2,0.5],[0.22,0.27],[0.25,0.42],[0.28,0.32],[0.3,0.2],[0.32,0.55],[0.35,0.28],[0.38,0.42],[0.4,0.18],[0.42,0.35],[0.45,0.25],[0.48,0.45],[0.5,0.3],[0.52,0.58],[0.55,0.4],[0.58,0.25],[0.6,0.5],[0.65,0.7],[0.68,0.38],[0.7,0.8],[0.75,0.45],[0.8,0.6],[0.85,0.85],[0.9,0.55],[0.95,0.68],[1.0,0.6],[0.58,0.85],[0.15,0.32]];
const p3_res6_core = [[0.08,0.38],[0.13,0.45],[0.16,0.3],[0.2,0.4],[0.23,0.22],[0.26,0.35],[0.3,0.28],[0.33,0.4],[0.37,0.22],[0.4,0.38],[0.44,0.3],[0.47,0.2],[0.5,0.4],[0.53,0.5],[0.57,0.35],[0.62,0.6],[0.66,0.45],[0.72,0.55],[0.78,0.5],[0.83,0.7],[0.88,0.62],[0.93,0.58],[0.6,0.8],[0.45,0.55]];
const p3_res6_fill = [[0.11,0.35],[0.17,0.38],[0.21,0.3],[0.25,0.28],[0.28,0.42],[0.32,0.32],[0.36,0.38],[0.39,0.28],[0.43,0.45],[0.46,0.38],[0.51,0.25],[0.55,0.33],[0.59,0.42],[0.64,0.52],[0.7,0.48],[0.76,0.62],[0.82,0.55],[0.87,0.72],[0.35,0.5],[0.25,0.18]];
const p3_res6_more = [[0.14,0.33],[0.19,0.28],[0.23,0.38],[0.27,0.3],[0.31,0.36],[0.34,0.25],[0.38,0.35],[0.42,0.28],[0.47,0.32],[0.52,0.35],[0.56,0.45],[0.6,0.3],[0.68,0.55],[0.74,0.6],[0.8,0.66],[0.86,0.6]];

// Panel 4: Ensemble entropy (cal/mol/K)
const p4_res4 = [[1.27,6.09],[1.21,4.43],[1.33,3.47],[1.64,3.68],[1.7,7.3],[1.86,6.0],[1.99,6.28],[2.42,7.01],[2.75,8.01],[2.93,6.11],[3.0,5.3],[3.24,6.43],[3.36,5.49],[3.43,7.21],[3.61,5.86],[3.67,6.51],[3.88,8.54],[3.92,8.08],[3.95,7.42],[4.04,6.71],[4.23,7.86],[4.37,9.65],[4.38,8.79],[4.59,7.98],[4.78,7.11],[4.94,5.68],[4.98,5.99],[5.09,8.54],[5.18,9.19],[5.52,5.02],[5.55,4.62],[5.48,9.42],[6.25,10.39],[6.41,10.58],[6.93,10.85],[7.73,5.3],[7.69,6.14],[7.69,11.29],[9.66,6.92],[10.31,6.92],[11.01,7.83],[11.97,10.35],[12.71,9.23],[13.51,10.16],[13.88,10.25],[14.19,10.41],[14.5,10.72],[14.8,10.85],[14.99,11.7],[15.36,11.7],[15.57,12.12],[16.53,11.85],[16.96,15.83],[16.09,16.33],[14.68,17.2],[13.27,16.08],[16.16,14.5],[16.16,13.97],[15.73,14.03],[14.74,11.6],
[4.7,7.2],[4.9,7.8],[5.0,6.5],[5.1,8.3],[5.2,7.0],[5.3,7.6],[5.4,6.2],[5.5,8.8],[5.6,7.3],[5.7,8.1],[5.8,6.8],[5.9,9.1],[6.0,7.7],[6.1,8.5],[6.2,7.1],[6.3,9.5],[6.4,8.0],[6.5,6.6],[6.6,8.8],[6.7,7.5],[6.8,9.3],[6.9,8.2],[7.0,7.0],[7.1,9.8],[7.2,8.6],[7.3,7.7],[7.4,10.2],[7.5,9.0],[7.6,8.1],[7.7,10.6],[7.8,9.4],[7.9,7.5],[8.0,8.7],[8.1,10.0],[8.2,9.1],[8.3,8.0],[8.4,10.8],[8.5,9.6],[8.6,8.4],[8.7,11.2],[8.8,9.9],[8.9,8.8],[9.0,10.5],[9.1,7.8],[9.2,9.4],[9.3,11.0],[9.4,10.1],[9.5,8.5],[9.6,9.7],[9.7,11.5],[9.8,10.4],[9.9,8.9],[10.0,12.2],[10.1,9.9],[10.2,11.0],[10.3,10.2],[10.5,12.8],[10.6,9.5],[10.8,11.7],[11.0,10.5],[11.2,12.5],[11.4,11.3],[11.6,13.2],[11.8,10.8],[12.0,12.0],[12.3,13.5],[12.5,11.6],[12.8,12.9],[13.0,14.1],[13.2,11.9],[13.5,13.3],[13.8,14.3],[14.0,12.6],[14.3,13.7],[14.6,14.6],[14.9,13.0],[15.2,14.0],[15.5,14.8],[15.8,13.5],[16.0,14.9],[16.2,15.3],[4.5,6.9],[4.3,7.4],[5.6,5.9],[6.0,6.2],[5.2,5.8],[6.4,10.1],[6.9,10.4],[7.2,6.5],[8.2,7.4],[5.8,9.8],[4.8,8.6]];
const p4_res4_core = [[5.3,7.2],[5.5,7.6],[5.7,7.0],[5.9,7.9],[6.1,7.4],[6.3,8.2],[6.5,7.6],[6.7,8.4],[6.9,7.8],[7.1,8.7],[7.3,8.1],[7.5,8.8],[7.7,8.4],[7.9,9.1],[8.1,8.5],[8.3,9.3],[8.5,8.8],[8.7,9.6],[8.9,9.2],[9.1,10.0],[9.3,9.5],[9.5,10.3],[9.7,9.8],[9.9,10.6],[10.1,10.3],[10.3,11.2],[10.5,10.6],[10.7,11.4],[10.9,11.0],[11.1,11.8],[11.3,12.0],[11.5,12.6],[11.8,12.3],[12.1,12.9],[12.4,13.1],[12.7,13.8],[13.0,13.3],[13.3,14.4],[13.6,13.7],[13.9,14.8],[14.2,14.2],[14.5,14.9],[14.8,14.4],[15.1,14.9],[15.4,15.3],[15.7,14.5],[5.0,8.0],[5.4,8.5],[6.0,8.7],[6.6,9.2],[7.2,9.5],[7.8,10.0],[8.4,10.4],[9.0,10.8],[5.8,6.4],[6.4,7.0],[7.0,7.4],[7.6,7.9],[8.2,8.1],[8.8,8.6],[9.4,8.9],[10.0,9.5]];
const p4_res4_fill = [[5.1,7.4],[5.3,6.8],[5.5,7.9],[5.7,7.5],[5.9,7.2],[6.1,8.0],[6.3,7.7],[6.5,8.4],[6.7,8.0],[6.9,8.8],[7.1,8.3],[7.3,9.0],[7.5,8.6],[7.7,9.3],[7.9,8.8],[8.1,9.6],[8.3,9.0],[8.5,9.9],[8.7,9.4],[8.9,10.2],[9.1,9.7],[9.3,10.4],[9.5,9.9],[9.7,10.7],[9.9,10.1],[10.1,11.0],[10.3,10.6],[10.5,11.3],[10.7,10.9],[10.9,11.8],[11.1,11.3],[11.4,12.2],[11.7,11.7],[12.0,12.6],[12.3,12.2],[12.6,13.2],[12.9,12.6],[13.2,13.6],[13.5,12.9],[13.8,13.9],[14.1,13.4],[14.4,14.3],[14.7,13.8],[15.0,14.5],[15.3,14.6],[15.6,15.5],[15.9,14.8],[6.0,9.4],[6.8,10.0],[8.0,10.7],[4.6,7.6],[4.4,6.5]];
const p4_res4_more = [[5.2,7.6],[5.4,7.2],[5.6,8.0],[5.8,7.6],[6.0,7.1],[6.2,8.3],[6.4,7.8],[6.6,7.4],[6.8,8.5],[7.0,8.1],[7.2,7.8],[7.4,8.9],[7.6,8.5],[7.8,8.2],[8.0,9.3],[8.2,8.9],[8.4,9.5],[8.6,9.1],[8.8,9.6],[9.0,9.9],[9.2,10.2],[9.4,10.5],[9.6,10.0],[9.8,10.9],[10.0,10.4],[10.2,10.8],[10.4,11.5],[10.6,11.1],[10.8,11.5],[11.0,11.2],[11.2,12.0],[11.5,11.6],[11.8,12.5],[12.1,12.1],[12.4,12.8],[12.7,12.4],[13.0,13.6],[13.3,13.0],[13.6,14.1],[13.9,13.5],[14.2,14.5],[14.5,14.1],[14.8,14.8],[15.1,14.4],[15.4,15.0],[15.7,15.1],[6.5,9.0],[7.4,9.8],[5.5,6.5]];
const p4_res5 = [[2.22,6.59],[2.32,5.62],[3.0,4.99],[3.06,7.42],[3.06,7.11],[3.39,8.08],[3.65,4.91],[3.79,7.14],[4.16,5.05],[4.19,9.33],[4.37,6.76],[4.68,7.58],[5.02,5.39],[5.73,5.55],[7.2,5.37],[8.51,6.11],[6.56,5.64],[16.71,14.28],[15.85,16.83],[16.34,16.33],[15.23,16.25],[12.1,8.01],[12.34,8.05],[9.49,12.37],[9.88,13.03],
[5.5,6.8],[6.0,9.1],[6.3,7.3],[6.6,9.8],[6.8,7.8],[7.0,8.4],[7.2,10.4],[7.4,7.3],[7.6,9.2],[7.8,6.6],[8.0,9.9],[8.2,8.3],[8.4,7.2],[8.5,10.4],[8.7,9.0],[8.8,11.0],[9.0,7.9],[9.2,10.0],[9.4,11.6],[9.6,8.7],[9.8,9.8],[10.0,11.2],[10.1,12.6],[10.3,9.4],[10.5,10.7],[10.7,12.1],[10.9,9.8],[11.0,13.0],[11.2,11.0],[11.4,12.4],[11.5,9.5],[11.7,13.7],[11.9,11.6],[12.1,10.3],[12.3,12.7],[12.5,14.2],[12.7,11.0],[12.9,13.0],[13.1,15.0],[13.3,12.2],[13.5,14.0],[13.7,11.5],[13.9,15.3],[14.1,13.2],[14.3,14.8],[14.5,12.2],[14.7,15.6],[14.9,14.0],[15.1,15.2],[15.3,13.2],[15.5,14.4],[15.7,15.8],[15.9,14.2],[16.1,14.6],[14.0,16.0],[13.6,15.5],[12.2,14.6],[11.0,14.0],[10.6,13.7],[10.0,13.4],[9.0,12.4],[8.2,11.2],[7.8,11.5],[9.4,9.1],[10.8,10.2],[12.6,12.0],[13.0,10.6],[12.0,9.0],[6.3,11.3],[15.6,16.2],[14.6,16.5],[5.0,5.9],[4.8,7.6],[5.8,8.4]];
const p4_res5_core = [[6.2,8.5],[6.6,7.3],[7.0,9.7],[7.4,8.4],[7.8,9.0],[8.1,9.5],[8.4,8.6],[8.7,10.1],[9.0,9.5],[9.3,10.6],[9.6,10.2],[9.9,11.4],[10.2,10.0],[10.5,11.9],[10.8,11.2],[11.1,10.7],[11.3,12.8],[11.6,11.9],[11.9,13.1],[12.1,12.3],[12.4,11.8],[12.7,13.3],[13.0,12.4],[13.2,14.5],[13.5,13.0],[13.8,14.1],[14.1,12.9],[14.4,14.4],[14.7,13.5],[15.0,14.8],[15.3,14.1],[15.6,15.0],[15.9,15.5],[14.3,15.7],[13.8,16.3],[12.8,14.8],[12.0,13.8],[11.3,13.7],[10.4,12.6],[9.6,11.8],[8.8,11.6],[7.5,10.5],[11.8,10.6],[12.9,11.3],[13.9,12.4],[14.8,13.0],[10.2,9.0],[9.2,8.5]];
const p4_res5_fill = [[6.4,8.9],[6.9,9.0],[7.3,9.4],[7.7,8.8],[8.1,9.2],[8.5,9.3],[8.9,10.6],[9.3,9.9],[9.7,11.0],[10.1,11.6],[10.5,10.3],[10.9,12.4],[11.2,11.6],[11.5,12.9],[11.8,12.0],[12.1,13.4],[12.4,12.5],[12.7,14.0],[13.0,13.0],[13.3,14.1],[13.6,12.6],[13.9,13.6],[14.2,14.7],[14.5,13.7],[14.8,15.2],[15.1,14.2],[15.4,14.7],[15.7,15.3],[16.0,15.1],[13.1,15.6],[12.6,14.5],[11.6,14.4],[10.7,13.1],[9.9,12.2],[9.1,11.4],[8.3,10.6]];
const p4_res5_more = [[6.8,8.6],[7.2,9.0],[7.6,8.7],[8.0,9.1],[8.4,9.8],[8.8,9.4],[9.2,10.7],[9.6,10.5],[10.0,10.6],[10.4,11.4],[10.8,11.9],[11.2,12.2],[11.6,12.4],[12.0,13.0],[12.4,13.5],[12.8,13.7],[13.2,13.3],[13.6,14.4],[14.0,14.7],[14.4,13.9],[14.8,14.6],[15.2,15.3],[15.6,14.6],[13.4,15.3],[12.2,13.9],[11.4,13.3],[10.6,12.5],[9.8,11.6],[9.0,10.8]];
const p4_res6 = [[4.59,8.17],[4.23,6.39],[6.87,4.37],[7.55,4.93],[6.81,5.47],[6.62,5.86],[6.66,8.79],[6.81,8.42],[7.61,9.23],[10.19,7.51],[10.44,7.61],[10.44,6.46],[11.54,8.23],[12.16,8.13],[12.61,8.98],[12.77,9.48],[13.51,11.35],[13.88,11.35],[14.56,11.75],[15.02,12.03],[12.71,16.83],[13.29,16.56],[13.76,16.89],[14.19,17.02],[13.88,17.39],[12.5,15.96],[12.52,15.67],[11.48,15.02],[11.42,14.53],[16.89,15.05],[16.18,16.52],[15.85,13.78],[11.42,10.54],[11.85,9.29],[12.28,8.98],[13.08,11.22],[13.2,10.97],
[10.0,10.8],[10.6,11.4],[11.0,12.0],[11.3,13.3],[11.6,10.2],[11.8,12.6],[12.0,14.3],[12.2,11.3],[12.4,13.6],[12.6,15.1],[12.8,12.3],[13.0,13.8],[13.2,15.4],[13.4,12.9],[13.6,14.6],[13.8,15.5],[14.0,14.0],[14.2,15.3],[14.4,13.2],[14.6,15.0],[14.8,13.8],[15.0,15.6],[15.2,14.6],[15.4,15.9],[15.6,14.9],[11.5,11.7],[10.8,9.7],[9.5,9.9],[8.8,8.4],[7.0,9.2],[7.6,9.6],[8.4,10.3],[9.0,11.0],[12.4,10.5],[13.4,11.6],[15.8,15.2],[16.0,15.6]];
const p4_res6_core = [[11.2,12.3],[11.6,13.0],[12.0,12.5],[12.3,14.0],[12.7,13.5],[13.0,14.8],[13.3,13.6],[13.6,15.1],[13.9,14.3],[14.2,15.8],[14.5,14.6],[14.9,15.3],[15.3,15.7],[12.9,15.7],[13.5,16.1],[11.9,11.2],[12.6,11.5],[10.3,10.9],[10.8,12.4],[9.8,10.2],[8.6,9.9],[13.7,12.3],[14.4,13.5],[15.5,15.2]];
const p4_res6_fill = [[11.4,12.0],[11.8,13.4],[12.2,12.8],[12.5,13.9],[12.9,14.2],[13.2,13.1],[13.5,15.0],[13.8,14.5],[14.1,15.2],[14.4,14.1],[14.7,15.4],[15.1,15.0],[12.3,15.4],[11.7,12.8],[10.5,11.0],[9.2,10.4]];
const p4_res6_more = [[11.6,12.6],[12.0,13.3],[12.5,14.4],[12.9,13.9],[13.3,14.8],[13.7,14.8],[14.1,14.6],[14.5,15.3],[14.9,14.6],[15.3,15.2],[12.8,15.2],[13.9,16.0],[11.0,11.6],[10.2,11.3]];

const xLabels = ["log(conformers)", "log(conformers + rotamers)", "Ensemble energy (kcal/mol)", "Ensemble entropy (cal/mol/K)"];
const yLabel = "Predicted";
const domains = [[0, 9.18], [2.30, 9.78], [0, 1.905], [1.16, 17.39]];
const xTicks = [[0, 2, 4, 6, 8], [4, 6, 8], [0, 0.5, 1.0, 1.5], [5, 10, 15]];
const yTicks = [[0, 2, 4, 6, 8], [3, 4, 5, 6, 7, 8, 9], [0, 0.25, 0.5, 0.75, 1.0, 1.25, 1.5, 1.75], [2.5, 5.0, 7.5, 10.0, 12.5, 15.0]];
const xFormats = ["d", "d", ".1f", "d"];
const yFormats = ["d", "d", ".2f", ".1f"];
const r2Values = ["0.609", "0.742", "0.501", "0.737"];
const maeValues = ["0.469", "0.339", "0.144", "0.891"];
const seriesByPanel = [
  [p1_res4.concat(p1_res4_core, p1_res4_fill, p1_res4_more), p1_res5.concat(p1_res5_core, p1_res5_fill, p1_res5_more), p1_res6.concat(p1_res6_core, p1_res6_fill, p1_res6_more)],
  [p2_res4.concat(p2_res4_core, p2_res4_fill, p2_res4_more), p2_res5.concat(p2_res5_core, p2_res5_fill, p2_res5_more), p2_res6.concat(p2_res6_core, p2_res6_fill, p2_res6_more)],
  [p3_res4.concat(p3_res4_core, p3_res4_fill, p3_res4_more), p3_res5.concat(p3_res5_core, p3_res5_fill, p3_res5_more), p3_res6.concat(p3_res6_core, p3_res6_fill, p3_res6_more)],
  [p4_res4.concat(p4_res4_core, p4_res4_fill, p4_res4_more), p4_res5.concat(p4_res5_core, p4_res5_fill, p4_res5_more), p4_res6.concat(p4_res6_core, p4_res6_fill, p4_res6_more)]
];

function interleave(series) {
  const out = [];
  const n = Math.max(...series.map(s => s.length));
  for (let i = 0; i < n; i++) series.forEach((s, k) => { if (i < s.length) out.push({x: s[i][0], y: s[i][1], res: residues[k]}); });
  return out;
}

const FS = 41.5;
const FW = 669, FH = 671.5;
const fig = document.getElementById("fig");

for (let i = 0; i < 4; i++) {
  const width = i === 3 ? 786 : 809;
  const dom = domains[i];
  const pts = interleave(seriesByPanel[i]);
  const marks = [
    Plot.dot(pts, {x: "x", y: "y", fill: "res", r: 6.8, stroke: "white", strokeWidth: 0.9, clip: true}),
    Plot.line([[dom[0], dom[0]], [dom[1], dom[1]]], {stroke: "#808080", strokeWidth: 5.5, strokeDasharray: "20,8.6", clip: true}),
    Plot.frame({fill: "white", fillOpacity: 0.8, stroke: "#cccccc", strokeWidth: 3.3, rx: 8, insetLeft: FW - 20 - 306, insetRight: 20, insetTop: FH - 20.5 - 122, insetBottom: 20.5}),
    Plot.text([r2Values[i]], {frameAnchor: "bottom-right", text: d => "R2 = " + d, dx: -306, dy: -107.3, textAnchor: "start", lineAnchor: "middle", fontSize: FS, fill: "black"}),
    Plot.text([maeValues[i]], {frameAnchor: "bottom-right", text: d => "MAE = " + d, dx: -306, dy: -61.3, textAnchor: "start", lineAnchor: "middle", fontSize: FS, fill: "black"}),
    Plot.text([xLabels[i]], {frameAnchor: "bottom", text: d => d, dy: 102.7, textAnchor: "middle", lineAnchor: "middle", fontSize: FS, fill: "black"})
  ];
  if (i === 0) {
    marks.push(Plot.text([yLabel], {frameAnchor: "left", text: d => d, rotate: -90, dx: -87.3, dy: 2, textAnchor: "middle", lineAnchor: "middle", fontSize: FS, fill: "black"}));
    marks.push(Plot.frame({fill: "white", fillOpacity: 0.8, stroke: "#cccccc", strokeWidth: 3.3, rx: 8, insetLeft: 20, insetTop: 21, insetRight: FW - 20 - 222, insetBottom: FH - 21 - 204}));
    marks.push(Plot.text(["Residues"], {frameAnchor: "top-left", text: d => d, dx: 130, dy: 55.9, textAnchor: "middle", lineAnchor: "middle", fontSize: FS, fill: "black"}));
    residues.forEach((res, k) => {
      marks.push(Plot.dot([res], {frameAnchor: "top-left", fill: d => d, r: 14.5, dx: 116.7, dy: 101.8 + k * 44.5}));
      marks.push(Plot.text([res], {frameAnchor: "top-left", text: d => String(d), dx: 163.3, dy: 103.6 + k * 44.5, textAnchor: "start", lineAnchor: "middle", fontSize: FS, fill: "black"}));
    });
  }
  marks.push(Plot.frame({stroke: "black", strokeWidth: 3.3}));
  marks.push(Plot.axisX({ticks: xTicks[i], tickFormat: d3.format(xFormats[i]), tickSize: 14.6, tickPadding: 17, strokeWidth: 3.3, fontSize: FS, label: null}));
  marks.push(Plot.axisY({ticks: yTicks[i], tickFormat: d3.format(yFormats[i]), tickSize: 14.6, tickPadding: 15.4, strokeWidth: 3.3, fontSize: FS, label: null}));

  const svg = Plot.plot({
    width, height: 804,
    marginLeft: 115, marginRight: width - 115 - FW, marginTop: 2.5, marginBottom: 130,
    x: {domain: dom},
    y: {domain: dom},
    color: {type: "ordinal", domain: residues, range: residueColors},
    style: {fontFamily: "DejaVu Sans", fontSize: FS + "px", color: "black", background: "transparent", overflow: "visible"},
    marks
  });
  svg.style.left = (i * 809) + "px";
  fig.appendChild(svg);

  d3.select(svg).selectAll("text").filter(function() { return this.textContent.startsWith("R2 = "); }).each(function() {
    const rest = this.textContent.slice(2);
    const t = d3.select(this);
    t.text(null);
    t.append("tspan").attr("font-style", "italic").text("R");
    t.append("tspan").attr("dx", 3).attr("dy", -17).attr("font-size", 28).text("2");
    t.append("tspan").attr("dy", 17).text(rest);
  });
}
</script>
</body></html>
